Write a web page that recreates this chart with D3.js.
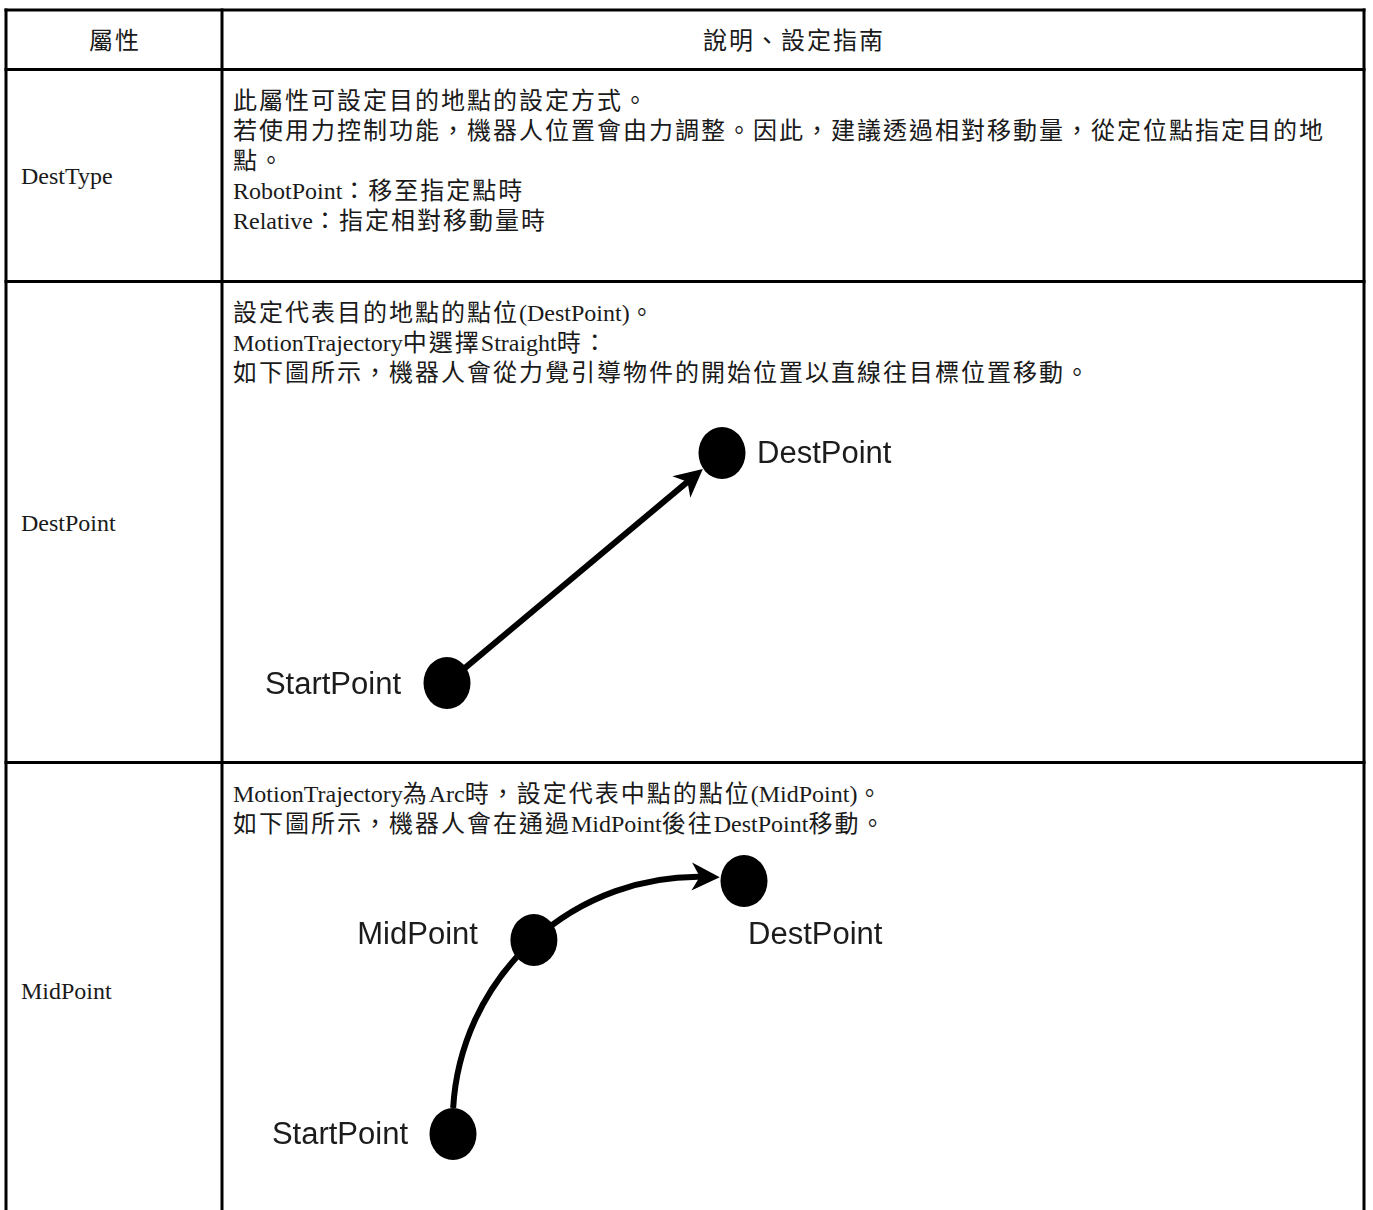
<!DOCTYPE html>
<html><head><meta charset="utf-8">
<script src="https://cdn.jsdelivr.net/npm/d3@7/dist/d3.min.js"></script>
<style>body{margin:0;background:#fff} svg{display:block}</style>
</head><body>
<svg id="c" width="1373" height="1210"></svg>
<script>
// ---- data ----
const headers = ["屬性", "說明、設定指南"];
const propNames = ["DestType", "DestPoint", "MidPoint"];
const descLines = [
  ["此屬性可設定目的地點的設定方式。",
   "若使用力控制功能，機器人位置會由力調整。因此，建議透過相對移動量，從定位點指定目的地",
   "點。",
   "RobotPoint：移至指定點時",
   "Relative：指定相對移動量時"],
  ["設定代表目的地點的點位(DestPoint)。",
   "MotionTrajectory中選擇Straight時：",
   "如下圖所示，機器人會從力覺引導物件的開始位置以直線往目標位置移動。"],
  ["MotionTrajectory為Arc時，設定代表中點的點位(MidPoint)。",
   "如下圖所示，機器人會在通過MidPoint後往DestPoint移動。"]
];
// diagram nodes (abstract units 0..100)
const straightNodes = ["StartPoint", "DestPoint"];
const straightX = [0, 100];
const straightY = [0, 100];
const arcNodes = ["StartPoint", "MidPoint", "DestPoint"];
const arcX = [0, 27.8, 100];
const arcY = [0, 76.7, 100];

// ---- layout ----
const L = 6, DIV = 222, R = 1364;
const rowEdges = [10, 69.5, 281.5, 762.5, 1230];
const lineGap = 30;
const firstLineOffset = [31, 31, 31];

const svg = d3.select("#c");
const defs = svg.append("defs");
defs.append("filter").attr("id", "soft").append("feGaussianBlur").attr("stdDeviation", 0.6);
const mk = defs.append("marker").attr("id", "ah")
  .attr("markerUnits", "userSpaceOnUse").attr("orient", "auto")
  .attr("viewBox", "-20 -20 40 40").attr("markerWidth", 40).attr("markerHeight", 40)
  .attr("refX", 0).attr("refY", 0);
mk.append("path").attr("d", "M15,0 L-13,-14 L-5,0 L-13,14 Z").attr("fill", "#000");

const CJK = /[\u2E80-\u9FFF\u3000-\u303F\uFF00-\uFFEF]+|[^\u2E80-\u9FFF\u3000-\u303F\uFF00-\uFFEF]+/g;
const isCJK = s => /[\u2E80-\u9FFF\u3000-\u303F\uFF00-\uFFEF]/.test(s);

function richText(g, str, x, yc, anchor) {
  const t = g.append("text").attr("x", x).attr("y", yc + 8.8)
    .attr("text-anchor", anchor || "start").attr("fill", "#1a1a1a");
  str.match(CJK).forEach(run => {
    const sp = t.append("tspan").text(run);
    if (isCJK(run)) {
      sp.attr("font-family", "'Noto Sans CJK TC'").attr("font-size", 24)
        .attr("letter-spacing", 2);
    } else {
      sp.attr("font-family", "'Liberation Serif'").attr("font-size", 24);
    }
  });
  return t;
}

// ---- table grid ----
const grid = svg.append("g").attr("stroke", "#000").attr("stroke-width", 3);
rowEdges.slice(0, -1).forEach(y => grid.append("line").attr("x1", L - 1.5).attr("x2", R + 1.5).attr("y1", y).attr("y2", y));
[L, DIV, R].forEach(x => grid.append("line").attr("x1", x).attr("x2", x).attr("y1", rowEdges[0] - 1.5).attr("y2", rowEdges[rowEdges.length - 1]));

// ---- header ----
const hy = (rowEdges[0] + rowEdges[1]) / 2;
richText(svg, headers[0], (L + DIV) / 2 + 1, hy, "middle");
richText(svg, headers[1], (DIV + R) / 2 + 1, hy, "middle");

// ---- rows ----
propNames.forEach((name, i) => {
  const top = rowEdges[i + 1], bot = rowEdges[i + 2];
  const yc = i < 2 ? (top + bot) / 2 : 990;
  richText(svg, name, 21, yc, "start");
  descLines[i].forEach((ln, j) => richText(svg, ln, 233, top + firstLineOffset[i] + j * lineGap, "start"));
});

// ---- diagrams ----
const RX = 23.5, RY = 26;
function labelText(g, txt, x, y, anchor) {
  g.append("text").attr("x", x).attr("y", y + 11).attr("text-anchor", anchor)
    .attr("font-family", "'Liberation Sans'").attr("font-size", 31).attr("fill", "#1a1a1a").text(txt);
}

// Straight diagram
{
  const x = d3.scaleLinear().domain([0, 100]).range([447, 722]);
  const y = d3.scaleLinear().domain([0, 100]).range([683, 453]);
  const g = svg.append("g").attr("filter", "url(#soft)");
  const pts = straightNodes.map((n, i) => ({ n, x: x(straightX[i]), y: y(straightY[i]) }));
  const [s, d] = pts;
  const dx = d.x - s.x, dy = d.y - s.y, len = Math.hypot(dx, dy), ux = dx / len, uy = dy / len;
  const tip = 25, back = 15;
  g.append("path").attr("fill", "none").attr("stroke", "#000").attr("stroke-width", 6)
    .attr("d", d3.line()([[s.x + ux * 22, s.y + uy * 22], [d.x - ux * (tip + back), d.y - uy * (tip + back)]]))
    .attr("marker-end", "url(#ah)");
  g.selectAll("ellipse").data(pts).join("ellipse")
    .attr("cx", p => p.x).attr("cy", p => p.y).attr("rx", RX).attr("ry", RY).attr("fill", "#000");
  labelText(g, s.n, s.x - 46, s.y, "end");
  labelText(g, d.n, d.x + 35, d.y - 1, "start");
}

// Arc diagram
{
  const x = d3.scaleLinear().domain([0, 100]).range([453, 744]);
  const y = d3.scaleLinear().domain([0, 100]).range([1134, 881]);
  const g = svg.append("g").attr("filter", "url(#soft)");
  const pts = arcNodes.map((n, i) => ({ n, x: x(arcX[i]), y: y(arcY[i]) }));
  const [A, B, C] = pts;
  const D = 2 * (A.x * (B.y - C.y) + B.x * (C.y - A.y) + C.x * (A.y - B.y));
  const a2 = A.x * A.x + A.y * A.y, b2 = B.x * B.x + B.y * B.y, c2 = C.x * C.x + C.y * C.y;
  const cx = (a2 * (B.y - C.y) + b2 * (C.y - A.y) + c2 * (A.y - B.y)) / D;
  const cy = (a2 * (C.x - B.x) + b2 * (A.x - C.x) + c2 * (B.x - A.x)) / D;
  const r = Math.hypot(A.x - cx, A.y - cy);
  let aS = Math.atan2(A.y - cy, A.x - cx);
  let aE = Math.atan2(C.y - cy, C.x - cx);
  while (aE < aS) aE += 2 * Math.PI;
  const p = d3.path();
  const a0 = aS + RY / r, a1 = aE - (RX + 1 + 15) / r;
  p.moveTo(cx + r * Math.cos(a0), cy + r * Math.sin(a0));
  p.arc(cx, cy, r, a0, a1, false);
  g.append("path").attr("d", p.toString()).attr("fill", "none").attr("stroke", "#000")
    .attr("stroke-width", 6).attr("marker-end", "url(#ah)");
  g.selectAll("ellipse").data(pts).join("ellipse")
    .attr("cx", q => q.x).attr("cy", q => q.y).attr("rx", RX).attr("ry", RY).attr("fill", "#000");
  labelText(g, A.n, A.x - 45, A.y - 1, "end");
  labelText(g, B.n, B.x - 56, B.y - 7, "end");
  labelText(g, C.n, C.x + 4, C.y + 52, "start");
}
</script>
</body></html>
